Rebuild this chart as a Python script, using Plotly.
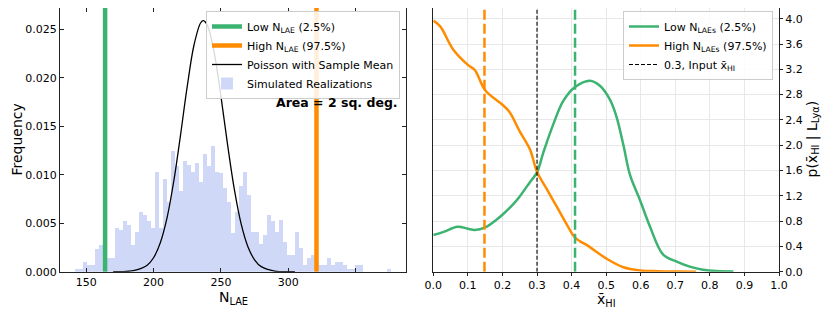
import plotly.graph_objects as go

# ---------------- data: left panel ----------------
bin_start = 141.6
bin_width = 2.976
freq = [0.0003, 0.0003, 0.0010, 0.0007, 0.0007, 0.0023, 0.0028, 0.0021, 0.0014, 0.0014,
        0.0045, 0.0043, 0.0052, 0.0048, 0.0028, 0.0041, 0.0062, 0.0059, 0.0052, 0.0045,
        0.0103, 0.0045, 0.0096, 0.0072, 0.0124, 0.0109, 0.0083, 0.0114, 0.0110, 0.0103,
        0.0112, 0.0093, 0.0121, 0.0109, 0.0130, 0.0103, 0.0102, 0.0086, 0.0072, 0.0040,
        0.0062, 0.0088, 0.0103, 0.0079, 0.0041, 0.0041, 0.0029, 0.0038, 0.0059, 0.0052,
        0.0041, 0.0053, 0.0031, 0.0017, 0.0017, 0.0041, 0.0024, 0.0007, 0.0014, 0.0017,
        0.0010, 0.0007, 0.0007, 0.0014, 0.0007, 0.0010, 0.0010, 0.0007, 0.0003, 0.0003,
        0.0007, 0.0007, 0.0, 0.0, 0.0, 0.0, 0.0, 0.0, 0.0003]

poisson_x = [170, 175, 185, 195, 200, 205, 210, 215, 220, 225, 230, 235, 237, 240,
             245, 250, 255, 260, 265, 270, 275, 280, 290, 300, 305]
poisson_y = [0.0, 0.00001, 0.0001, 0.00063, 0.00144, 0.00299, 0.00556, 0.00933, 0.01407,
             0.01911, 0.02336, 0.02568, 0.0259, 0.02541, 0.02263, 0.01813, 0.01308,
             0.00849, 0.00495, 0.0026, 0.00123, 0.00052, 0.00007, 0.000006, 0.0]

low_nlae = 164
high_nlae = 321

left_xticks = [150, 200, 250, 300, 350]
left_xticklabels = ["150", "200", "250", "300", ""]

# ---------------- data: right panel ----------------
xhi_low = [0.0, 0.03, 0.07, 0.10, 0.12, 0.15, 0.18, 0.20, 0.23, 0.25, 0.28, 0.30, 0.318,
           0.347, 0.376, 0.41, 0.453, 0.482, 0.511, 0.53, 0.55, 0.569, 0.598, 0.627,
           0.665, 0.704, 0.742, 0.78, 0.82, 0.868]
p_low = [0.58, 0.63, 0.71, 0.68, 0.66, 0.70, 0.81, 0.90, 1.06, 1.19, 1.42, 1.57, 1.88,
         2.33, 2.70, 2.92, 3.02, 2.94, 2.72, 2.45, 2.00, 1.53, 1.13, 0.71, 0.27, 0.16,
         0.08, 0.03, 0.01, 0.004]

xhi_high = [0.0, 0.02, 0.058, 0.10, 0.12, 0.15, 0.20, 0.22, 0.25, 0.28, 0.30, 0.33, 0.36,
            0.39, 0.41, 0.45, 0.50, 0.55, 0.60, 0.65, 0.70, 0.76]
p_high = [3.97, 3.88, 3.51, 3.27, 3.19, 2.87, 2.64, 2.53, 2.22, 1.93, 1.58, 1.29, 1.00,
          0.71, 0.54, 0.40, 0.21, 0.07, 0.02, 0.008, 0.003, 0.0]

low_xhi_line = 0.41
high_xhi_line = 0.148
input_xhi = 0.3

GREEN = "#3cb371"
ORANGE = "#ff8c00"
FONT = "DejaVu Sans"

left_ytop = 0.0272
right_ytop = 4.17

W, H, OFF = 830, 312, 8   # page body margin offset


def px(xp):
    return (xp - OFF) / W


def py(yp):
    return (H + OFF - yp) / H


fig = go.Figure()

fig.add_trace(go.Bar(
    x=[bin_start + bin_width * (i + 0.5) for i in range(len(freq))],
    y=freq, width=bin_width,
    marker=dict(color="rgba(65,105,225,0.25)", line=dict(width=0)),
    name="Simulated Realizations", legendrank=4,
    xaxis="x", yaxis="y", legend="legend"))

fig.add_trace(go.Scatter(
    x=poisson_x, y=poisson_y, mode="lines", line=dict(color="black", width=1.3, shape="spline"),
    name="Poisson with Sample Mean", legendrank=3, xaxis="x", yaxis="y", legend="legend"))

fig.add_trace(go.Scatter(
    x=[low_nlae, low_nlae], y=[0, left_ytop], mode="lines", line=dict(color=GREEN, width=4.5),
    name="Low N<sub>LAE</sub> (2.5%)", legendrank=1, xaxis="x", yaxis="y", legend="legend"))
fig.add_trace(go.Scatter(
    x=[high_nlae, high_nlae], y=[0, left_ytop], mode="lines", line=dict(color=ORANGE, width=4.5),
    name="High N<sub>LAE</sub> (97.5%)", legendrank=2, xaxis="x", yaxis="y", legend="legend"))

fig.add_trace(go.Scatter(
    x=xhi_low, y=p_low, mode="lines", line=dict(color=GREEN, width=2.5, shape="spline"),
    name="Low N<sub>LAEs</sub> (2.5%)", legendrank=1, xaxis="x2", yaxis="y2", legend="legend2"))
fig.add_trace(go.Scatter(
    x=xhi_high, y=p_high, mode="lines", line=dict(color=ORANGE, width=2.5, shape="spline"),
    name="High N<sub>LAEs</sub> (97.5%)", legendrank=2, xaxis="x2", yaxis="y2", legend="legend2"))
fig.add_trace(go.Scatter(
    x=[high_xhi_line, high_xhi_line], y=[0, right_ytop], mode="lines",
    line=dict(color=ORANGE, width=2.5, dash="10px,4px"), showlegend=False,
    xaxis="x2", yaxis="y2"))
fig.add_trace(go.Scatter(
    x=[low_xhi_line, low_xhi_line], y=[0, right_ytop], mode="lines",
    line=dict(color=GREEN, width=2.5, dash="10px,4px"), showlegend=False,
    xaxis="x2", yaxis="y2"))
fig.add_trace(go.Scatter(
    x=[input_xhi, input_xhi], y=[0, right_ytop], mode="lines",
    line=dict(color="black", width=1.1, dash="4px,2px"),
    name="0.3, Input x\u0304<sub>HI</sub>", legendrank=3, xaxis="x2", yaxis="y2", legend="legend2"))

ydom = [py(271.7), 1.0]
tickfont = dict(family=FONT, size=11, color="black")
legfont = dict(family=FONT, size=11, color="black")

fig.update_layout(
    width=W, height=H,
    margin=dict(l=0, r=0, t=0, b=0, autoexpand=False),
    paper_bgcolor="white", plot_bgcolor="white",
    font=dict(family=FONT, color="black"),
    bargap=0,
    xaxis=dict(domain=[px(60), px(406)], range=[130.5, 387.5], anchor="y", automargin=False,
               tickvals=left_xticks, ticktext=left_xticklabels,
               ticks="inside", ticklen=4, tickcolor="#222", mirror="ticks",
               showline=True, linecolor="#222", linewidth=1, showgrid=False, zeroline=False,
               tickfont=tickfont),
    yaxis=dict(domain=ydom, range=[0, left_ytop], anchor="x", dtick=0.005, tick0=0,
               automargin=False,
               tickformat=".3f", ticks="inside", ticklen=4, tickcolor="#222", mirror="ticks",
               showline=True, linecolor="#222", linewidth=1, showgrid=False, zeroline=False,
               tickfont=tickfont),
    xaxis2=dict(domain=[px(433.3), px(779)], range=[0, 1], anchor="y2", dtick=0.1, tick0=0,
                automargin=False,
                tickformat=".1f", ticks="outside", ticklen=3, tickcolor="#222",
                showline=True, linecolor="#222", linewidth=1, mirror=True,
                showgrid=True, gridcolor="#e8e8e8", gridwidth=1, zeroline=False,
                tickfont=tickfont),
    yaxis2=dict(domain=ydom, range=[0, right_ytop], anchor="x2", side="right", dtick=0.4,
                automargin=False,
                tick0=0, tickformat=".1f", ticks="outside", ticklen=3, tickcolor="#222",
                showline=True, linecolor="#222", linewidth=1, mirror=True,
                showgrid=True, gridcolor="#e8e8e8", gridwidth=1, zeroline=False,
                tickfont=tickfont),
    legend=dict(x=px(400), y=py(11), xanchor="right", yanchor="top",
                bgcolor="rgba(255,255,255,0.85)", bordercolor="#cccccc", borderwidth=1,
                font=legfont, tracegroupgap=0),
    legend2=dict(x=px(773), y=py(11), xanchor="right", yanchor="top",
                 bgcolor="rgba(255,255,255,0.85)", bordercolor="#cccccc", borderwidth=1,
                 font=legfont, tracegroupgap=0),
    annotations=[
        dict(text="<b>Area = 2 sq. deg.</b>", x=px(400), y=py(102), xref="paper", yref="paper",
             xanchor="right", yanchor="middle", showarrow=False,
             font=dict(family=FONT, size=12.5, color="black")),
        dict(text="Frequency", x=px(17), y=py(139.5), xref="paper", yref="paper",
             textangle=-90, xanchor="center", yanchor="middle", showarrow=False,
             font=dict(family=FONT, size=14, color="black")),
        dict(text="N<sub>LAE</sub>", x=px(233), y=py(298), xref="paper", yref="paper",
             xanchor="center", yanchor="middle", showarrow=False,
             font=dict(family=FONT, size=14, color="black")),
        dict(text="x\u0304<sub>HI</sub>", x=px(606), y=py(299.5), xref="paper", yref="paper",
             xanchor="center", yanchor="middle", showarrow=False,
             font=dict(family=FONT, size=14, color="black")),
        dict(text="p(x\u0304<sub>HI</sub> | L<sub>Ly\u03b1</sub>)", x=px(813), y=py(139.5),
             xref="paper", yref="paper", textangle=-90, xanchor="center", yanchor="middle",
             showarrow=False, font=dict(family=FONT, size=14, color="black")),
    ],
)

fig.write_html("out.html")
